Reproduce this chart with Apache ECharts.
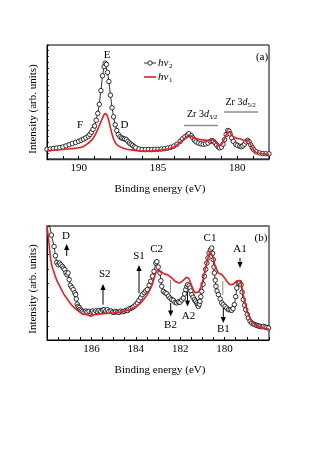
<!DOCTYPE html>
<html><head><meta charset="utf-8">
<script src="https://cdn.jsdelivr.net/npm/echarts@6/dist/echarts.min.js"></script>
<style>html,body{margin:0;padding:0;background:#fff}#c{width:317px;height:454px}</style>
</head><body><div id="c"></div>
<script>
// ---- Panel (a) data: binding energy (eV) and intensity (arb. units, 0-100 of frame height)
const aHv2E = [192.0,191.8,191.6,191.4,191.2,191.0,190.8,190.6,190.4,190.2,190.0,189.85,189.7,189.55,189.4,189.3,189.2,189.1,189.0,188.9,188.8,188.7,188.6,188.5,188.4,188.33,188.25,188.18,188.1,188.0,187.9,187.8,187.7,187.6,187.5,187.4,187.3,187.2,187.1,187.0,186.9,186.8,186.7,186.6,186.5,186.4,186.2,186.0,185.8,185.6,185.4,185.2,185.0,184.8,184.6,184.4,184.2,184.0,183.8,183.6,183.45,183.3,183.15,183.05,182.9,182.8,182.7,182.6,182.45,182.3,182.15,182.0,181.85,181.7,181.6,181.5,181.4,181.3,181.2,181.12,181.0,180.9,180.8,180.7,180.6,180.52,180.45,180.35,180.25,180.1,180.0,179.85,179.75,179.65,179.55,179.45,179.35,179.25,179.15,179.05,178.95,178.8,178.6,178.4,178.2,178.0];
const aHv2I = [8.5,8.8,9.2,9.6,10.0,10.5,11.5,12.5,13.6,14.5,15.5,16.5,17.5,18.6,20.0,21.5,23.5,26.0,29.0,34.0,40.0,48.0,60.0,73.0,81.0,84.0,83.0,76.0,68.0,56.0,45.0,37.0,30.0,25.0,21.5,19.5,18.5,18.0,17.5,17.0,15.5,14.0,13.0,12.0,10.8,9.8,8.8,8.3,8.2,8.4,8.2,8.5,8.5,8.7,9.0,9.5,10.2,11.3,13.0,15.5,17.8,19.5,21.0,22.2,20.5,18.5,16.5,15.0,14.0,13.3,13.0,13.2,14.0,15.5,16.2,15.5,14.0,12.3,10.6,9.8,10.5,13.0,17.0,21.5,25.0,24.5,22.0,18.5,15.5,13.0,12.0,11.2,10.8,11.5,13.0,15.0,16.4,15.0,12.5,10.0,8.0,6.3,5.3,4.8,4.6,4.5];
const aHv1E = [192.0,191.5,191.0,190.5,190.0,189.7,189.5,189.3,189.1,188.95,188.8,188.65,188.5,188.4,188.3,188.2,188.1,188.0,187.9,187.8,187.65,187.5,187.3,187.1,186.9,186.6,186.2,185.8,185.4,185.0,184.6,184.3,184.0,183.7,183.4,183.2,183.05,182.9,182.75,182.5,182.2,181.95,181.75,181.6,181.5,181.35,181.2,181.1,181.0,180.9,180.75,180.6,180.5,180.4,180.25,180.0,179.8,179.6,179.45,179.35,179.25,179.1,178.95,178.8,178.6,178.3,178.0];
const aHv1I = [7.6,7.9,8.4,9.0,9.8,11.0,12.8,15.0,18.0,21.5,26.0,31.0,36.0,38.8,39.8,38.0,33.5,27.5,22.0,17.5,13.5,11.5,10.0,9.0,8.4,7.8,7.2,7.0,7.3,7.6,8.3,9.0,10.5,13.5,17.0,19.5,21.0,20.0,18.5,17.5,16.8,16.5,16.5,17.0,16.5,14.5,12.5,11.8,12.5,15.0,19.5,23.5,24.0,22.0,19.5,18.0,17.5,16.5,16.5,16.8,15.5,11.0,7.5,5.8,5.0,4.5,4.2];

// ---- Panel (b) data
const bHv2E = [187.92,187.8,187.68,187.62,187.56,187.5,187.44,187.38,187.31,187.25,187.2,187.15,187.1,187.05,187.0,186.95,186.88,186.82,186.75,186.71,186.68,186.64,186.6,186.55,186.5,186.45,186.4,186.33,186.25,186.2,186.11,186.0,185.95,185.88,185.8,185.72,185.66,185.58,185.5,185.43,185.35,185.28,185.21,185.12,185.05,184.98,184.9,184.83,184.76,184.68,184.6,184.53,184.45,184.38,184.31,184.22,184.15,184.08,184.0,183.93,183.86,183.78,183.71,183.62,183.55,183.48,183.4,183.33,183.25,183.18,183.1,183.05,182.99,182.91,182.87,182.83,182.76,182.68,182.61,182.53,182.46,182.38,182.31,182.23,182.16,182.08,182.01,181.93,181.86,181.8,181.75,181.7,181.66,181.6,181.56,181.52,181.48,181.42,181.36,181.31,181.26,181.22,181.18,181.14,181.11,181.07,181.03,180.97,180.91,180.85,180.8,180.75,180.7,180.64,180.58,180.54,180.51,180.48,180.46,180.42,180.39,180.34,180.28,180.2,180.13,180.06,179.98,179.9,179.83,179.75,179.68,179.62,179.56,179.5,179.45,179.38,179.32,179.26,179.21,179.16,179.1,179.05,178.98,178.93,178.85,178.78,178.7,178.63,178.55,178.48,178.41,178.32,178.25,178.18,178.1,178.02];
const bHv2I = [104,92,82,74,68,66,67.5,66,64.6,63,61.7,59,57.3,58.8,53,48,46,44.2,41.5,39.8,36,31.5,29.5,28.5,27,26,25,24.2,25.5,24.5,25.1,24.5,25.5,24.2,25.5,24.8,26,25.2,26.2,26.6,25.5,26.5,25.1,25.5,24.5,24.2,25,24.5,24.2,25.3,24.8,25.1,26,25.8,27.2,27.8,28.5,29.5,31,32.5,34.8,37,39.8,41.5,43,44.2,48,51.5,56,60.2,67.5,68.7,64,58.8,52,47.1,42.7,41.5,40.6,38.5,36.8,35.5,34.8,33,32.5,33.5,33.1,35,36.8,40.5,44.2,47,48.5,47.5,45.6,43,39.8,37.5,35.4,34,32.5,31,29.5,31.5,33.9,38,42.7,49,55.9,62,67.5,72,76.3,79,80.7,76,70.5,64,58.8,52.5,47.1,43,39.8,36,32.5,31,29.5,28,26.6,26.5,26,27.5,31,38,45.6,50,50.5,48.5,42,35.4,30.5,26.6,22.5,19.3,16.5,14.9,14,13.4,12.8,12.3,12,11.5,12,11.4,11,10.5];
const bHv1E = [188.0,187.95,187.91,187.87,187.83,187.78,187.72,187.63,187.54,187.42,187.31,187.2,187.09,186.98,186.86,186.75,186.63,186.52,186.41,186.3,186.18,186.1,186.03,185.96,185.88,185.75,185.6,185.43,185.3,185.15,184.98,184.8,184.65,184.53,184.4,184.25,184.08,183.93,183.78,183.63,183.48,183.37,183.26,183.18,183.1,183.02,182.95,182.88,182.8,182.7,182.62,182.55,182.46,182.38,182.3,182.23,182.12,182.01,181.92,181.85,181.78,181.72,181.66,181.61,181.56,181.48,181.41,181.34,181.26,181.18,181.1,181.03,180.96,180.88,180.8,180.73,180.66,180.58,180.51,180.43,180.35,180.28,180.2,180.13,180.06,179.98,179.9,179.83,179.76,179.68,179.6,179.53,179.45,179.38,179.32,179.26,179.21,179.16,179.08,179.0,178.92,178.85,178.78,178.68,178.58,178.48,178.35,178.2,178.0];
const bHv1I = [100,92,85,77,70.5,65,61.7,56,51.5,47,42.7,39,36,33,30.1,28,26,24.5,23.1,22.5,22.2,21.5,20.8,21.5,22.2,22.3,22.8,23.1,23.2,23.5,23.7,24.2,24.6,25.1,25.8,26.8,28.1,30,32.5,36,39.8,44,48.5,54,58.8,61.7,61,59.5,58.8,58,57.5,57,56,54.5,53,51.5,50.5,50,51,52.5,53.5,55,55.9,54,51.5,47.5,44.2,41.5,39.8,42,45,48.5,54,61.7,68,73.4,77.8,75,71.9,64.6,61.5,58.8,58.3,57.5,55.9,54,51.5,50,48.5,48.8,49,50,52,52.9,52,50,45,39.8,33,26.6,22,19,16.4,14.5,13,12,11,10.2,9.6];

// tick labels
const aTickLabels = [180, 185, 190];
const bTickLabels = [180, 182, 184, 186];

const zip = (xs, ys) => xs.map((x, i) => [x, ys[i]]);
const FONT = '"Liberation Serif", "Times New Roman", serif';

const chart = echarts.init(document.getElementById('c'), null, {renderer: 'canvas'});

function xAx(grid, min, max, interval, labels, extra) {
  return Object.assign({
    type: 'value', gridIndex: grid, min: min, max: max, interval: interval, inverse: true,
    axisLine: {show: true, onZero: false, lineStyle: {color: '#000', width: 1}},
    axisTick: {show: true, inside: true, length: 3, lineStyle: {color: '#000', width: 1}},
    axisLabel: {margin: 4, color: '#000', fontFamily: FONT, fontSize: 11,
      formatter: v => labels.indexOf(Math.round(v * 100) / 100) >= 0 ? String(v) : ''},
    splitLine: {show: false}
  }, extra || {});
}
function yAx(grid, interval) {
  return {
    type: 'value', gridIndex: grid, min: 0, max: 100, interval: interval,
    axisLine: {show: true, lineStyle: {color: '#000', width: 1}},
    axisTick: {show: true, inside: true, length: 2, lineStyle: {color: '#000', width: 0.8}},
    axisLabel: {show: false}, splitLine: {show: false}
  };
}
function circleSeries(xi, yi, data) {
  return {type: 'line', xAxisIndex: xi, yAxisIndex: yi, data: data, symbol: 'circle', symbolSize: 4.5,
    showAllSymbol: true, clip: true, z: 2,
    itemStyle: {color: '#fff', borderColor: '#000', borderWidth: 0.8},
    lineStyle: {color: '#000', width: 0.8}, emphasis: {disabled: true}, animation: false};
}
function redSeries(xi, yi, data, smooth) {
  return {type: 'line', xAxisIndex: xi, yAxisIndex: yi, data: data, symbol: 'none', smooth: smooth,
    clip: true, z: 3, lineStyle: {color: '#ec1c24', width: 1.6}, emphasis: {disabled: true}, animation: false};
}

// annotation helpers (graphic)
const G = [];
function txt(x, y, s, size, extra) {
  G.push(Object.assign({type: 'text', x: x, y: y, z: 10, style: Object.assign({text: s, fill: '#000',
    font: (size || 11) + 'px ' + FONT, textAlign: 'center', textVerticalAlign: 'middle'}, (extra || {}))}));
}
function line(x1, y1, x2, y2, color, w) {
  G.push({type: 'line', z: 10, shape: {x1: x1, y1: y1, x2: x2, y2: y2}, style: {stroke: color, lineWidth: w}});
}
function arrow(x, yBase, yTip) {
  const dir = yTip < yBase ? 1 : -1; // up if tip above
  const headLen = 6;
  line(x, yBase, x, yTip + dir * headLen * 0.8, '#000', 1);
  G.push({type: 'polygon', z: 10, shape: {points: [[x, yTip], [x - 2.6, yTip + dir * headLen], [x + 2.6, yTip + dir * headLen]]},
    style: {fill: '#000'}});
}

// axis titles
txt(33, 109, 'Intensity (arb. units)', 11, {});
G[G.length - 1].rotation = Math.PI / 2;
txt(33, 289, 'Intensity (arb. units)', 11, {});
G[G.length - 1].rotation = Math.PI / 2;
txt(160, 189, 'Binding energy (eV)', 11);
txt(160, 370, 'Binding energy (eV)', 11);

// panel (a) annotations
txt(107, 55, 'E', 11);
txt(80, 125, 'F', 11);
txt(124.5, 125, 'D', 11);
txt(262, 57, '(a)', 11);
// legend
line(144, 63, 156, 63, '#000', 0.8);
G.push({type: 'circle', z: 11, shape: {cx: 150, cy: 63, r: 2.2}, style: {fill: '#fff', stroke: '#000', lineWidth: 0.8}});
line(144, 77, 156, 77, '#ec1c24', 1.6);
txt(158, 63, 'hν', 11, {textAlign: 'left', font: 'italic 11px ' + FONT});
txt(169, 66, '2', 7, {textAlign: 'left'});
txt(158, 77, 'hν', 11, {textAlign: 'left', font: 'italic 11px ' + FONT});
txt(169, 80, '1', 7, {textAlign: 'left'});
// Zr 3d labels
txt(187, 114, 'Zr 3', 10, {textAlign: 'left'});
txt(204, 114, 'd', 10, {textAlign: 'left', font: 'italic 10px ' + FONT});
txt(209, 117.5, '3/2', 6.5, {textAlign: 'left'});
line(184, 125.5, 218, 125.5, '#8c8c8c', 1.5);
txt(225.5, 102, 'Zr 3', 10, {textAlign: 'left'});
txt(242.5, 102, 'd', 10, {textAlign: 'left', font: 'italic 10px ' + FONT});
txt(247.5, 105.5, '5/2', 6.5, {textAlign: 'left'});
line(224, 112, 258, 112, '#8c8c8c', 1.5);

// panel (b) annotations
txt(66, 236, 'D', 11); arrow(66.7, 256, 244);
txt(104.7, 274, 'S2', 11); arrow(103, 304.7, 284);
txt(139, 256, 'S1', 11); arrow(139, 293, 265);
txt(156.7, 249.5, 'C2', 11);
txt(210, 238, 'C1', 11);
txt(261, 238, '(b)', 11);
txt(240, 249, 'A1', 11); arrow(240, 258, 268);
txt(170.5, 325, 'B2', 11); arrow(170.7, 303, 316.5);
line(170.5, 280, 170.5, 293, '#8c8c8c', 1);
txt(188.5, 316.5, 'A2', 11); arrow(187.5, 291.5, 306.5);
txt(223.3, 329, 'B1', 11); arrow(223.3, 308, 323);
line(222.8, 281, 222.8, 295, '#8c8c8c', 1);

const option = {
  backgroundColor: '#fff',
  animation: false,
  grid: [
    {left: 47, top: 45, width: 222, height: 114, show: true, borderColor: '#000', borderWidth: 1, backgroundColor: 'transparent'},
    {left: 47, top: 226, width: 222, height: 114, show: true, borderColor: '#000', borderWidth: 1, backgroundColor: 'transparent'}
  ],
  xAxis: [
    xAx(0, 178, 192, 1, aTickLabels, {axisLine: {show: true, onZero: false, lineStyle: {color: '#333', width: 1.4}}}),
    xAx(1, 178, 188, 0.5, bTickLabels),
    xAx(1, 178, 188, 0.5, [], {position: 'top', axisTick: {show: false}, axisLabel: {show: false},
      axisLine: {show: true, onZero: false, lineStyle: {color: '#7a7a7a', width: 2}}})
  ],
  yAxis: [yAx(0, 5), yAx(1, 12.5)],
  series: [
    circleSeries(0, 0, zip(aHv2E, aHv2I)),
    redSeries(0, 0, zip(aHv1E, aHv1I), 0.3),
    circleSeries(1, 1, zip(bHv2E, bHv2I)),
    redSeries(2, 1, zip(bHv1E, bHv1I), false)
  ],
  graphic: G
};
chart.setOption(option);
</script>
</body></html>
